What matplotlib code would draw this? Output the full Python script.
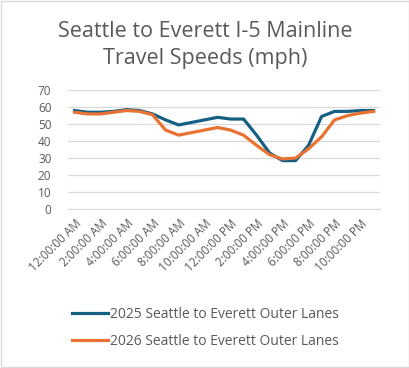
import numpy as np
import matplotlib
matplotlib.use("Agg")
from matplotlib import pyplot as plt
from matplotlib.patches import Rectangle

# hourly travel speeds (mph), 12 AM .. 11 PM
hours = ["12:00:00 AM", "1:00:00 AM", "2:00:00 AM", "3:00:00 AM", "4:00:00 AM", "5:00:00 AM",
         "6:00:00 AM", "7:00:00 AM", "8:00:00 AM", "9:00:00 AM", "10:00:00 AM", "11:00:00 AM",
         "12:00:00 PM", "1:00:00 PM", "2:00:00 PM", "3:00:00 PM", "4:00:00 PM", "5:00:00 PM",
         "6:00:00 PM", "7:00:00 PM", "8:00:00 PM", "9:00:00 PM", "10:00:00 PM", "11:00:00 PM"]
speeds_2025 = [58, 57, 57, 57.5, 58.5, 58, 56, 52.5, 49.5, 51, 52.5, 54,
               53, 53, 43.5, 33, 28.5, 28.5, 37.5, 54.5, 57.5, 57.5, 58, 58]
speeds_2026 = [57, 56, 56, 57, 58, 57.5, 55.5, 46.5, 43.5, 45, 46.5, 48,
               46.5, 43.5, 37.5, 32, 29.5, 30, 35.5, 42.5, 52.5, 55, 56.5, 57.5]
labels = ["2025 Seattle to Everett Outer Lanes", "2026 Seattle to Everett Outer Lanes"]

plt.rcParams['font.family'] = ['Open Sans', 'DejaVu Sans']
txt_col = "#595959"
grid_col = "#D9D9D9"

fig = plt.figure(figsize=(4.10, 3.68), dpi=100)
fig.patches.append(Rectangle((0.002, 0.002), 0.995, 0.995, transform=fig.transFigure,
                             fill=False, edgecolor=grid_col, linewidth=1))

ax = fig.add_axes([0.166, 0.432, 0.761, 0.323])
x = np.arange(len(hours))
ax.plot(x, speeds_2025, color="#156082", linewidth=2.3, label=labels[0], solid_joinstyle="round")
ax.plot(x, speeds_2026, color="#E97132", linewidth=2.3, label=labels[1], solid_joinstyle="round")

ax.set_xlim(-0.5, len(hours) - 0.5)
ax.set_ylim(0, 70)
ax.set_yticks(range(0, 71, 10))
ax.yaxis.grid(True, color=grid_col, linewidth=0.9)
ax.set_axisbelow(True)
for s in ["top", "right", "left"]:
    ax.spines[s].set_visible(False)
ax.spines["bottom"].set_color(grid_col)
ax.tick_params(axis="both", length=0, colors=txt_col, labelsize=8.5)
ax.tick_params(axis="y", pad=12)
ax.tick_params(axis="x", pad=6)
ax.set_xticks(x[::2])
ax.set_xticklabels(hours[::2], rotation=45, ha="right", rotation_mode="anchor")

fig.text(0.5, 0.878, "Seattle to Everett I-5 Mainline\nTravel Speeds (mph)", ha="center", va="center",
         fontsize=15.5, color=txt_col, linespacing=1.4)

fig.legend(loc="upper left", bbox_to_anchor=(0.145, 0.2), frameon=False, fontsize=10,
           labelcolor=txt_col, handlelength=2.6, handletextpad=0.15, labelspacing=0.85)

fig.savefig("out.png", dpi=100)
